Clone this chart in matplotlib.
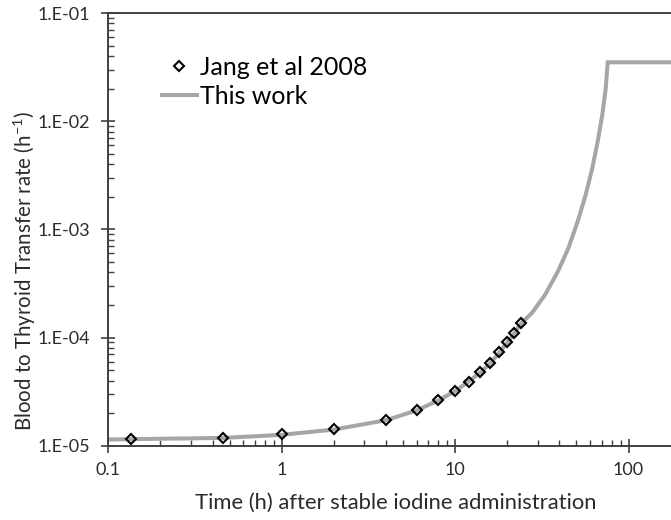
import numpy as np
import matplotlib
matplotlib.use("Agg")
import matplotlib.pyplot as plt
from matplotlib.ticker import LogLocator, FuncFormatter, NullFormatter

# Data
jang_t = [0.136, 0.46, 1, 2, 4, 6, 8, 10, 12, 14, 16, 18, 20, 22, 24]
jang_k = [1.15e-5, 1.19e-5, 1.27e-5, 1.42e-5, 1.72e-5, 2.12e-5, 2.62e-5, 3.2e-5,
          3.92e-5, 4.77e-5, 5.82e-5, 7.28e-5, 9.0e-5, 1.1e-4, 1.36e-4]

curve_t = [0.1, 0.136, 0.46, 1, 2, 4, 6, 8, 10, 12, 14, 16, 18, 20, 22, 24,
           27.7, 33.0, 39.1, 45.0, 50.9, 56.6, 61.8, 66.4, 70.6, 73.9, 75.9, 180]
curve_k = [1.14e-5, 1.15e-5, 1.18e-5, 1.26e-5, 1.41e-5, 1.72e-5, 2.12e-5, 2.62e-5,
           3.2e-5, 3.92e-5, 4.77e-5, 5.82e-5, 7.28e-5, 9.0e-5, 1.1e-4, 1.35e-4,
           1.68e-4, 2.48e-4, 4.06e-4, 6.69e-4, 1.18e-3, 2.08e-3, 3.67e-3, 6.47e-3,
           1.14e-2, 2.01e-2, 3.5e-2, 3.5e-2]

x_ticks = [0.1, 1, 10, 100]
x_tick_labels = ["0.1", "1", "10", "100"]
y_ticks = [1e-5, 1e-4, 1e-3, 1e-2, 1e-1]

series_labels = ["Jang et al 2008", "This work"]
xlabel = "Time (h) after stable iodine administration"
ylabel = "Blood to Thyroid Transfer rate (h$^{-1}$)"

plt.rcParams['font.family'] = ['Lato', 'DejaVu Sans']
plt.rcParams['mathtext.fontset'] = 'custom'
plt.rcParams['mathtext.rm'] = 'Lato'

TXT = '#2b2b2b'
AX = '#404040'

fig = plt.figure(figsize=(6.71, 5.2), dpi=100)
W, H = 671, 520
left, right, top, bottom = 108.3, 671, 13, 445.7
ax = fig.add_axes([left / W, 1 - bottom / H, (right - left) / W, (bottom - top) / H])

line, = ax.plot(curve_t, curve_k, color='#a6a6a6', lw=2.9, solid_joinstyle='miter',
                label=series_labels[1], zorder=2)
pts, = ax.plot(jang_t, jang_k, ls='none', marker='D', ms=5.6, mfc='none', mec='black',
               mew=1.5, label=series_labels[0], zorder=3)

ax.set_xscale('log')
ax.set_yscale('log')
ax.set_xlim(0.1, 10 ** (-1 + (right - left) / 173.4))
ax.set_ylim(1e-5, 1e-1)

ax.set_xticks(x_ticks)
ax.set_xticklabels(x_tick_labels)
ax.set_yticks(y_ticks)
ax.yaxis.set_major_formatter(FuncFormatter(lambda v, p: "1.E%+03d" % int(round(np.log10(v)))))
ax.xaxis.set_minor_locator(LogLocator(base=10, subs=np.arange(2, 10)))
ax.yaxis.set_minor_locator(LogLocator(base=10, subs=np.arange(2, 10)))
ax.xaxis.set_minor_formatter(NullFormatter())
ax.yaxis.set_minor_formatter(NullFormatter())

ax.tick_params(which='major', direction='inout', length=10, width=1.2, color=AX,
               labelsize=13, labelcolor=TXT)
ax.tick_params(which='minor', direction='in', length=4.5, width=1.0, color=AX)
ax.tick_params(axis='y', which='major', pad=8)
ax.tick_params(axis='x', which='major', pad=7)

for s in ['left', 'top', 'bottom']:
    ax.spines[s].set_color(AX)
    ax.spines[s].set_linewidth(1.4)
ax.spines['right'].set_visible(False)

fig.text(396 / W, 1 - 503 / H, xlabel, ha='center', va='center', fontsize=15.8, color=TXT)
fig.text(25 / W, 1 - 271 / H, ylabel, ha='center', va='center', rotation=90,
         fontsize=14.8, color=TXT)

leg = ax.legend(handles=[pts, line], loc='upper left',
                bbox_to_anchor=(162 / W, 1 - 56 / H), bbox_transform=fig.transFigure,
                frameon=False, fontsize=18, handlelength=1.38, handletextpad=0.15,
                borderpad=0, borderaxespad=0, labelspacing=0.22)
for t in leg.get_texts():
    t.set_color('black')

fig.savefig('out.png', dpi=100)
